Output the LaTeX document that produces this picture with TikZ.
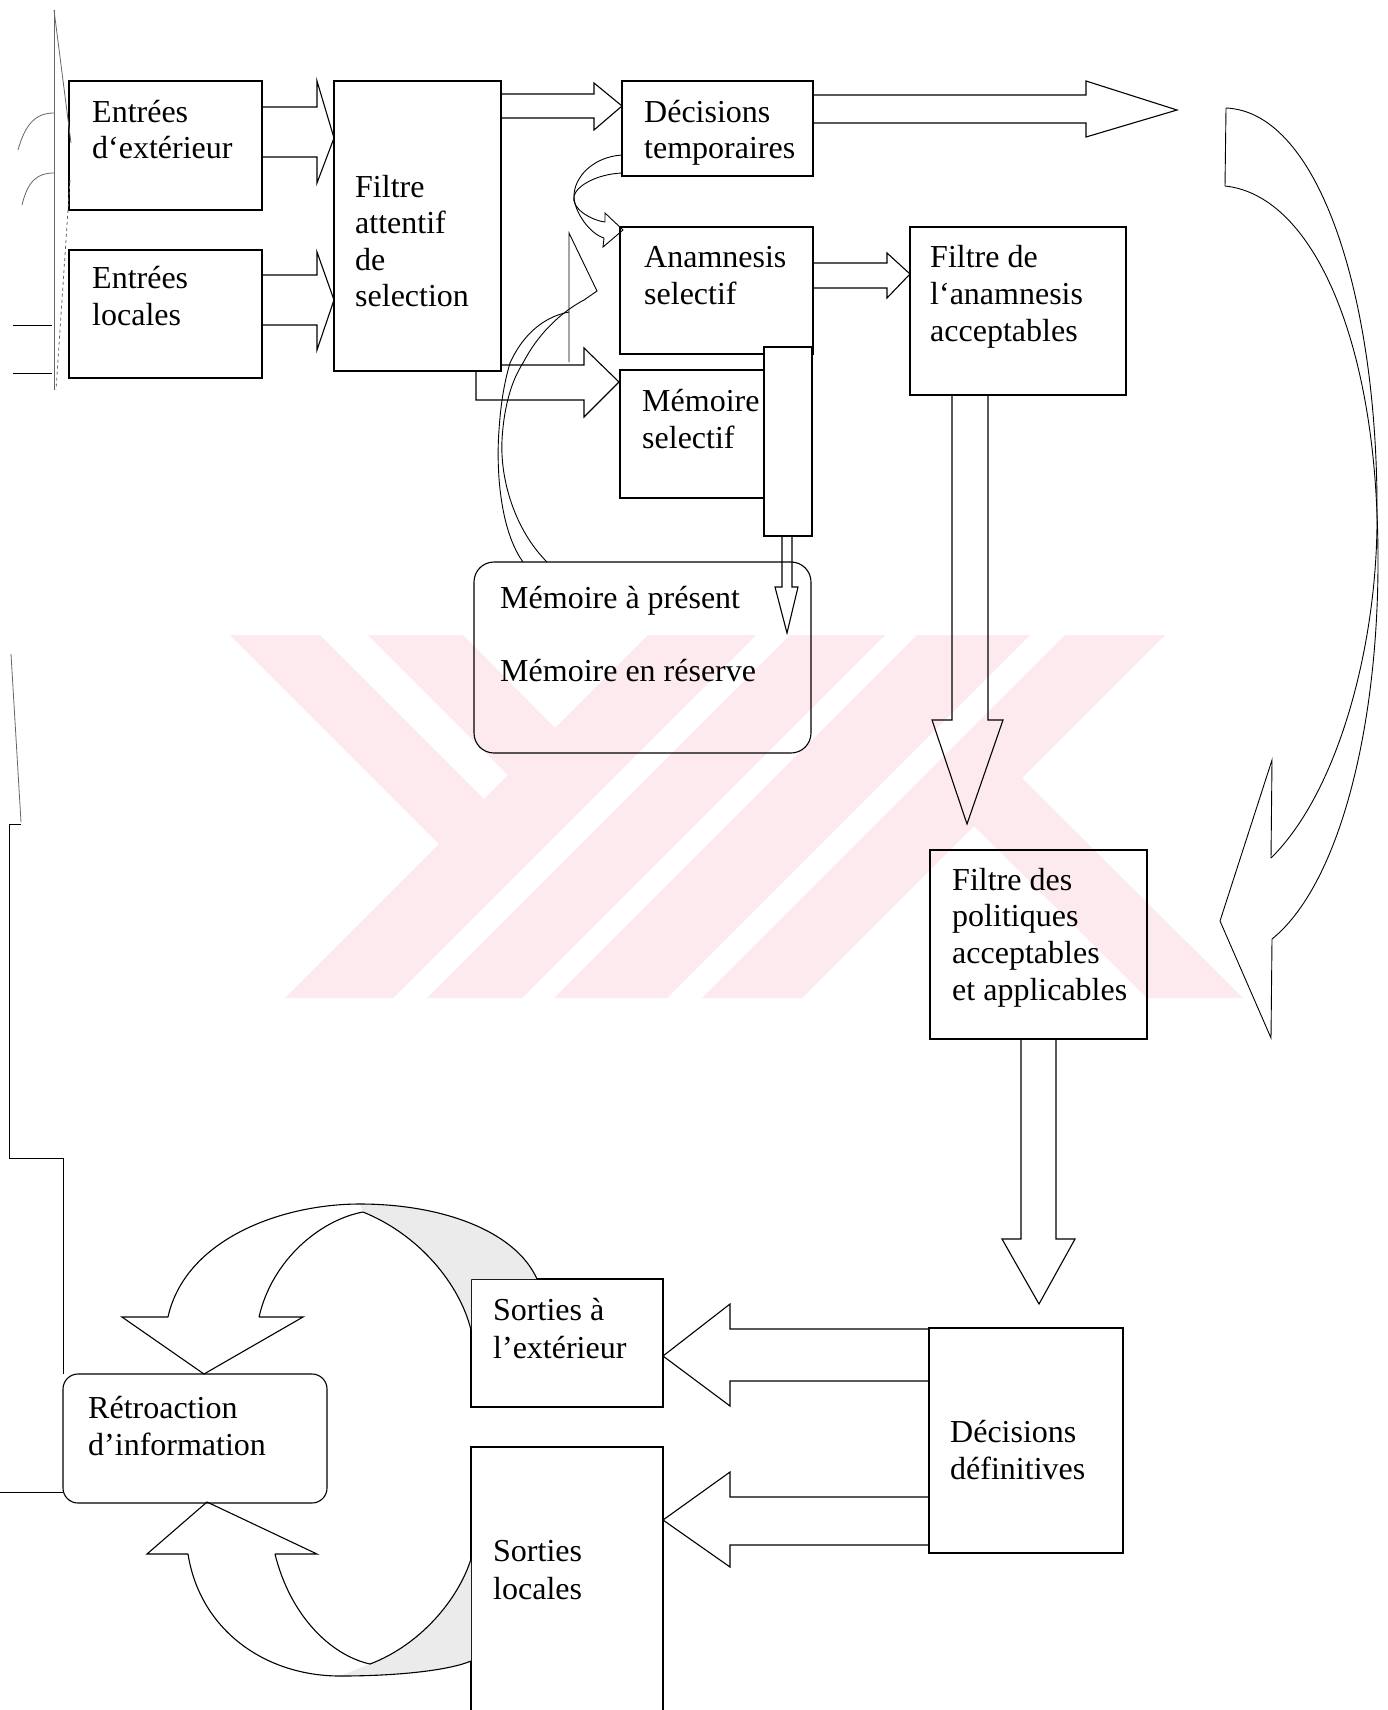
\documentclass[tikz,border=0pt]{standalone}
\usepackage{fontspec}
\setmainfont{Liberation Serif}
\definecolor{wm}{RGB}{253,234,238}
\begin{document}
\begin{tikzpicture}[x=1pt,y=-1pt,
  box/.style={draw, line width=1.1pt, anchor=north west, inner sep=0pt, outer sep=0pt},
  txt/.style={anchor=base west, inner sep=0pt, font=\fontsize{32}{37}\selectfont},
  barrow/.style={draw, line width=1.1pt, line join=miter},
  faint/.style={draw, line width=0.8pt, black!60},
  shade/.style={fill=black!8}]
\useasboundingbox (0,0) rectangle (1387,1710);
\fill[white] (0,0) rectangle (1387,1710);
% watermark
\fill[wm] (230,635) -- (320,635) -- (484,799) -- (439,844) -- cycle;
\fill[wm] (368,635) -- (463,635) -- (555,728) -- (508,775) -- cycle;
\fill[wm] (648,635) -- (756,635) -- (393,998) -- (285,998) -- cycle;
\fill[wm] (790,635) -- (885,635) -- (522,998) -- (427,998) -- cycle;
\fill[wm] (917,635) -- (1030,635) -- (667,998) -- (554,998) -- cycle;
\fill[wm] (1065,635) -- (1165,635) -- (802,998) -- (702,998) -- cycle;
\fill[wm] (1022,778) -- (974,826) -- (1147,998) -- (1243,998) -- cycle;

% boxes
\node[box,minimum width=193pt,minimum height=129pt] (e1) at (69,81) {};
\node[box,minimum width=193pt,minimum height=128pt] (e2) at (69,250) {};
\node[box,minimum width=167pt,minimum height=290pt] (fa) at (334,81) {};
\node[box,minimum width=191pt,minimum height=95pt] (dt) at (622,81) {};
\node[box,minimum width=193pt,minimum height=127pt] (an) at (620,227) {};
\node[box,minimum width=144pt,minimum height=128pt] (ms) at (620,370) {};
\node[box,fill=white,minimum width=48pt,minimum height=189pt] (bar) at (764,347) {};
\node[box,minimum width=216pt,minimum height=168pt] (fan) at (910,227) {};
\node[box,rounded corners=20pt,minimum width=337pt,minimum height=191pt] (mp) at (474,562) {};
\node[box,minimum width=217pt,minimum height=189pt] (fp) at (930,850) {};
\node[box,minimum width=194pt,minimum height=225pt] (dd) at (929,1328) {};
\node[box,minimum width=192pt,minimum height=128pt] (se) at (471,1279) {};
\node[box,minimum width=192pt,minimum height=300pt] (sl) at (471,1447) {};
\node[box,rounded corners=15pt,minimum width=264pt,minimum height=129pt] (rt) at (63,1374) {};

% texts
\node[txt] (e1a) at (92,122) {Entrées};
\node[txt] (e1b) at (92,158) {d‘extérieur};
\node[txt] (e2a) at (92,288) {Entrées};
\node[txt] (e2b) at (92,325) {locales};
\node[txt] (faa) at (355,197) {Filtre};
\node[txt] (fab) at (355,233) {attentif};
\node[txt] (fac) at (355,270) {de};
\node[txt] (fad) at (355,306) {selection};
\node[txt] (dta) at (644,122) {Décisions};
\node[txt] (dtb) at (644,158) {temporaires};
\node[txt] (ana) at (644,267) {Anamnesis};
\node[txt] (anb) at (644,304) {selectif};
\node[txt] (fana) at (930,267) {Filtre de};
\node[txt] (fanb) at (930,304) {l‘anamnesis};
\node[txt] (fanc) at (930,341) {acceptables};
\node[txt] (msa) at (642,411) {Mémoire};
\node[txt] (msb) at (642,448) {selectif};
\node[txt] (mpa) at (500,608) {Mémoire à présent};
\node[txt] (mpb) at (500,681) {Mémoire en réserve};
\node[txt] (fpa) at (952,890) {Filtre des};
\node[txt] (fpb) at (952,926) {politiques};
\node[txt] (fpc) at (952,963) {acceptables};
\node[txt] (fpd) at (952,1000) {et applicables};
\node[txt] (dda) at (950,1442) {Décisions};
\node[txt] (ddb) at (950,1479) {définitives};
\node[txt] (sea) at (493,1320) {Sorties à};
\node[txt] (seb) at (493,1358) {l’extérieur};
\node[txt] (sla) at (493,1561) {Sorties};
\node[txt] (slb) at (493,1599) {locales};
\node[txt] (rta) at (88,1418) {Rétroaction};
\node[txt] (rtb) at (88,1455) {d’information};

% straight block arrows
\draw[barrow] (262,107) -- (317,107) -- (317,81) -- (334,138) -- (317,183) -- (317,157) -- (262,157);
\draw[barrow] (262,275) -- (317,275) -- (317,252) -- (334,300) -- (317,350) -- (317,325) -- (262,325);
\draw[barrow] (501,94) -- (594,94) -- (594,83) -- (622,106) -- (594,130) -- (594,118) -- (501,118);
\draw[barrow] (813,95) -- (1086,95) -- (1086,81) -- (1177,110) -- (1086,137) -- (1086,123) -- (813,123);
\draw[barrow] (813,263) -- (887,263) -- (887,253) -- (910,274) -- (887,298) -- (887,288) -- (813,288);
\draw[barrow] (501,365) -- (584,365) -- (584,348) -- (619,382) -- (584,417) -- (584,400) -- (476,400) -- (476,371);
\draw[barrow] (782,536) -- (782,587) -- (775,587) -- (787,633) -- (798,587) -- (792,587) -- (792,536);
\draw[barrow] (952,395) -- (952,720) -- (932,720) -- (967,824) -- (1003,720) -- (988,720) -- (988,395);
\draw[barrow] (1021,1039) -- (1021,1239) -- (1002,1239) -- (1039,1304) -- (1075,1239) -- (1056,1239) -- (1056,1039);
\draw[barrow] (929,1329) -- (730,1329) -- (730,1304) -- (663,1356) -- (730,1406) -- (730,1381) -- (929,1381);
\draw[barrow] (929,1497) -- (730,1497) -- (730,1472) -- (663,1520) -- (730,1567) -- (730,1545) -- (929,1545);

% small curved arrow dt -> an
\draw[barrow, line width=0.9pt] (622,155) .. controls (592,157) and (574,178) .. (574,196) .. controls (574,212) and (590,234) .. (604,238);
\draw[barrow, line width=0.9pt] (622,173) .. controls (598,174) and (577,185) .. (574,196) .. controls (571,208) and (590,220) .. (605,222);
\draw[barrow, line width=0.9pt] (605,222) -- (605,213) -- (623,230) -- (603,247) -- (604,238);

% long curved band mp -> up
\draw[barrow, line width=0.9pt] (523,562) .. controls (500,530) and (496,470) .. (499,430) .. controls (501,400) and (505,380) .. (510,363) .. controls (525,330) and (548,316) .. (569,312);
\draw[barrow, line width=0.9pt] (547,562) .. controls (515,530) and (500,480) .. (502,440) .. controls (504,405) and (512,380) .. (523,363) .. controls (540,330) and (565,310) .. (584,300);
\draw[barrow, line width=0.9pt] (569,362) -- (569,233) -- (597,291) -- (584,300);

% big right curved arrow
\draw[barrow, line width=0.9pt] (1226,108) -- (1225,186);
\draw[barrow, line width=0.9pt] (1226,108) .. controls (1320,112) and (1378,300) .. (1377,514);
\draw[barrow, line width=0.9pt] (1225,186) .. controls (1310,195) and (1370,330) .. (1377,514);
\draw[barrow, line width=0.9pt] (1377,514) .. controls (1378,640) and (1340,790) .. (1271,858);
\draw[barrow, line width=0.9pt] (1377,514) .. controls (1385,700) and (1345,880) .. (1272,939);
\draw[barrow, line width=0.9pt] (1271,858) -- (1272,760) -- (1220,921) -- (1271,1038) -- (1272,939);

% upper ring
\fill[shade] (363,1212) .. controls (420,1235) and (460,1285) .. (471,1330) -- (471,1279) -- (537,1279) .. controls (515,1230) and (440,1204) .. (360,1204) -- cycle;
\draw[barrow] (168,1317) .. controls (185,1240) and (280,1204) .. (360,1204) .. controls (440,1204) and (515,1230) .. (537,1279);
\draw[barrow] (259,1317) .. controls (272,1260) and (320,1220) .. (363,1212);
\draw[barrow] (363,1212) .. controls (420,1235) and (460,1285) .. (471,1330);
\draw[barrow] (168,1317) -- (122,1317) -- (204,1374) -- (303,1317) -- (259,1317);
% lower ring
\fill[shade] (370,1664) .. controls (420,1645) and (458,1600) .. (471,1559) -- (471,1661) .. controls (450,1670) and (400,1676) .. (340,1676) -- cycle;
\draw[barrow] (188,1554) .. controls (200,1630) and (265,1676) .. (340,1676) .. controls (400,1676) and (450,1670) .. (471,1661);
\draw[barrow] (275,1554) .. controls (290,1615) and (330,1655) .. (370,1664);
\draw[barrow] (370,1664) .. controls (420,1645) and (458,1600) .. (471,1559);
\draw[barrow] (188,1554) -- (147,1554) -- (207,1502) -- (317,1554) -- (275,1554);

% left edge remnants
\draw[faint] (54,10) -- (54,390);
\draw[faint] (54,10) -- (71,143);
\draw[faint, dashed] (70,180) -- (56,390);
\draw[faint] (18,150) .. controls (25,125) and (35,113) .. (54,113);
\draw[faint] (22,205) .. controls (28,180) and (38,173) .. (54,173);
\draw[line width=1pt] (13,325) -- (52,325);
\draw[line width=1pt] (13,373) -- (52,373);
\draw[faint] (11,654) -- (21,822);
\draw[line width=1pt] (21,824) -- (9,824) -- (9,1158) -- (63,1158) -- (rt.north west);
\draw[line width=1pt] (0,1492) -- (63,1492);
\end{tikzpicture}
\end{document}
